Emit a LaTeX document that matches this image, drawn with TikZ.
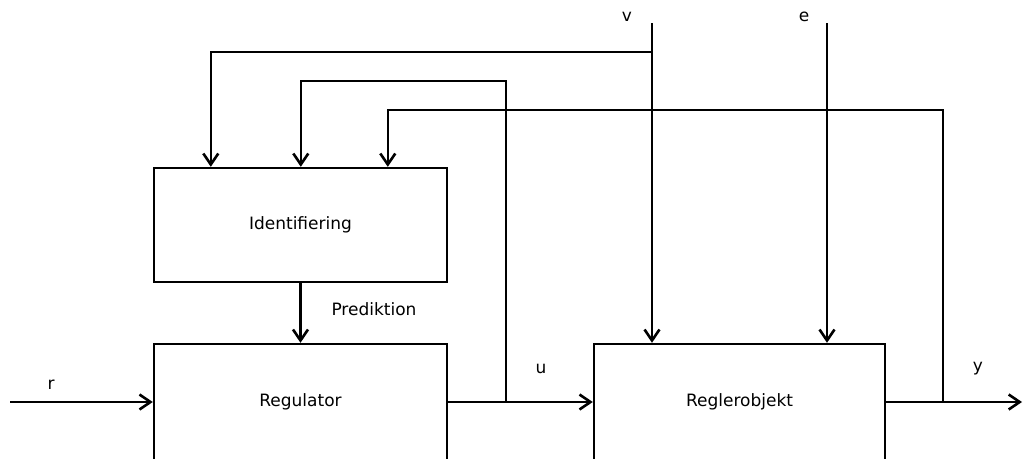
\documentclass[tikz,border=0pt]{standalone}
\usepackage{fontspec}
\setmainfont{DejaVu Sans}
\usetikzlibrary{arrows.meta,calc}
\begin{document}
\begin{tikzpicture}[x=1pt,y=-1pt,
  blk/.style={draw,line width=2.4pt,inner sep=0pt,font=\fontsize{17}{20}\selectfont},
  conn/.style={line width=2.4pt},
  arr/.style={conn,-{Straight Barb[length=11pt,width=15pt,line width=2.6pt]}},
  lbl/.style={inner sep=0pt,font=\fontsize{17}{20}\selectfont}]
\useasboundingbox (0,0) rectangle (1023,458);
\clip (0,0) rectangle (1023,458);
\fill[white] (0,0) rectangle (1023,458);
% boxes
\node[blk,minimum width=293pt,minimum height=114pt] (ident) at (300.5,225) {Identifiering};
\node[blk,minimum width=293pt,minimum height=116pt] (reg) at (300.5,402) {Regulator};
\node[blk,minimum width=291pt,minimum height=116pt] (obj) at (739.5,402) {Reglerobjekt};
% coordinates
\coordinate (rin) at (10,402);
\coordinate (yout) at (1022,402);
\coordinate (vtop) at (652,23);
\coordinate (etop) at (827,23);
\coordinate (jv) at (652,52);
\coordinate (ju) at (506,402);
\coordinate (tu) at (506,81);
\coordinate (jy) at (943,402);
\coordinate (ty) at (943,110);
% connectors
\draw[arr] (rin) -- (reg.west);
\draw[arr] (reg.east) -- (obj.west);
\draw[arr] (obj.east) -- (yout);
\draw[arr] (vtop) -- (vtop |- obj.north);
\draw[arr] (etop) -- (etop |- obj.north);
\draw[arr] (ident.south) -- (reg.north);
\draw[arr] (jv) -| ([xshift=58pt]ident.north west);
\draw[arr] (ju) -- (tu) -| ([xshift=148pt]ident.north west);
\draw[arr] (jy) -- (ty) -| ([xshift=235pt]ident.north west);
% labels
\node[lbl] (lr) at (51,385) {r};
\node[lbl] (lu) at (541,369) {u};
\node[lbl] (ly) at (978,369) {y};
\node[lbl] (lv) at (627,17) {v};
\node[lbl] (le) at (804,17) {e};
\node[lbl] (lp) at (374,309) {Prediktion};
\end{tikzpicture}
\end{document}
